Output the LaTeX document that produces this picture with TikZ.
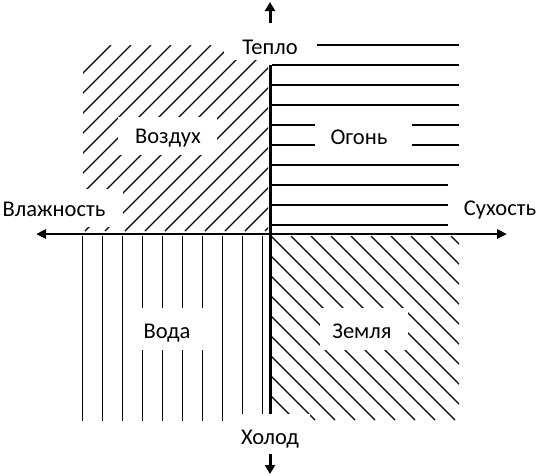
\documentclass[tikz,border=0pt]{standalone}
\usepackage{fontspec}
\setmainfont{Carlito}
\usetikzlibrary{arrows.meta}
\begin{document}
\begin{tikzpicture}[x=1pt,y=-1pt,
  hatch/.style={line width=1.2pt},
  axisline/.style={line width=2.6pt},
  lbl/.style={font=\fontsize{22.5}{26}\selectfont, inner sep=0pt, text height=0.62em, text depth=0.2em},
  gap/.style={fill=white}]
\useasboundingbox (0,0) rectangle (539,475);
% Fire (top right): horizontal lines
\foreach \k in {0,...,9} \draw[hatch] (272,45+20*\k) -- (459,45+20*\k);
% Air (top left): / hatching
\begin{scope}
  \clip (83,45) rectangle (268,231);
  \foreach \c in {156,176,...,496} \draw[hatch] (\c-231,231) -- (\c-45,45);
\end{scope}
% Earth (bottom right): \ hatching
\begin{scope}
  \clip (272,236) rectangle (459,420);
  \foreach \d in {-145,-125,...,215} \draw[hatch] (\d+236,236) -- (\d+420,420);
\end{scope}
% Water (bottom left): vertical lines
\foreach \k in {0,...,9} \draw[hatch] (82.7+20*\k,236) -- (82.7+20*\k,421);
% gaps behind labels
\fill[gap] (224,28) rectangle (317,60);
\fill[gap] (118,117) rectangle (217,155);
\fill[gap] (315,115) rectangle (412,155);
\fill[gap] (0,189) rectangle (123,227);
\fill[gap] (448,172) rectangle (539,230);
\fill[gap] (130,308) rectangle (215,350);
\fill[gap] (320,308) rectangle (408,350);
\fill[gap] (232,414) rectangle (310,460);
% labels
\node[lbl] (warm) at (270,52) {Тепло};
\node[lbl] (air) at (168,141) {Воздух};
\node[lbl] (fire) at (359,142) {Огонь};
\node[lbl] (wet) at (54,214) {Влажность};
\node[lbl] (dry) at (500,213) {Сухость};
\node[lbl] (water) at (167,336) {Вода};
\node[lbl] (earth) at (362,336) {Земля};
\node[lbl] (cold) at (270,442) {Холод};
% axes
\coordinate (L) at (36,234);
\coordinate (R) at (507,234);
\coordinate (T) at (270.5,65);
\coordinate (B) at (270.5,414);
\coordinate (ua) at (270,23);
\coordinate (ub) at (270,2);
\coordinate (da) at (270,454);
\coordinate (db) at (270,474);
\draw[axisline, {Triangle[length=10pt,width=9pt]}-{Triangle[length=10pt,width=9pt]}] (L) -- (R);
\draw[line width=3pt] (T) -- (B);
\draw[line width=3pt, -{Triangle[length=9pt,width=10pt]}] (ua) -- (ub);
\draw[line width=3pt, -{Triangle[length=9pt,width=10pt]}] (da) -- (db);
\end{tikzpicture}
\end{document}
